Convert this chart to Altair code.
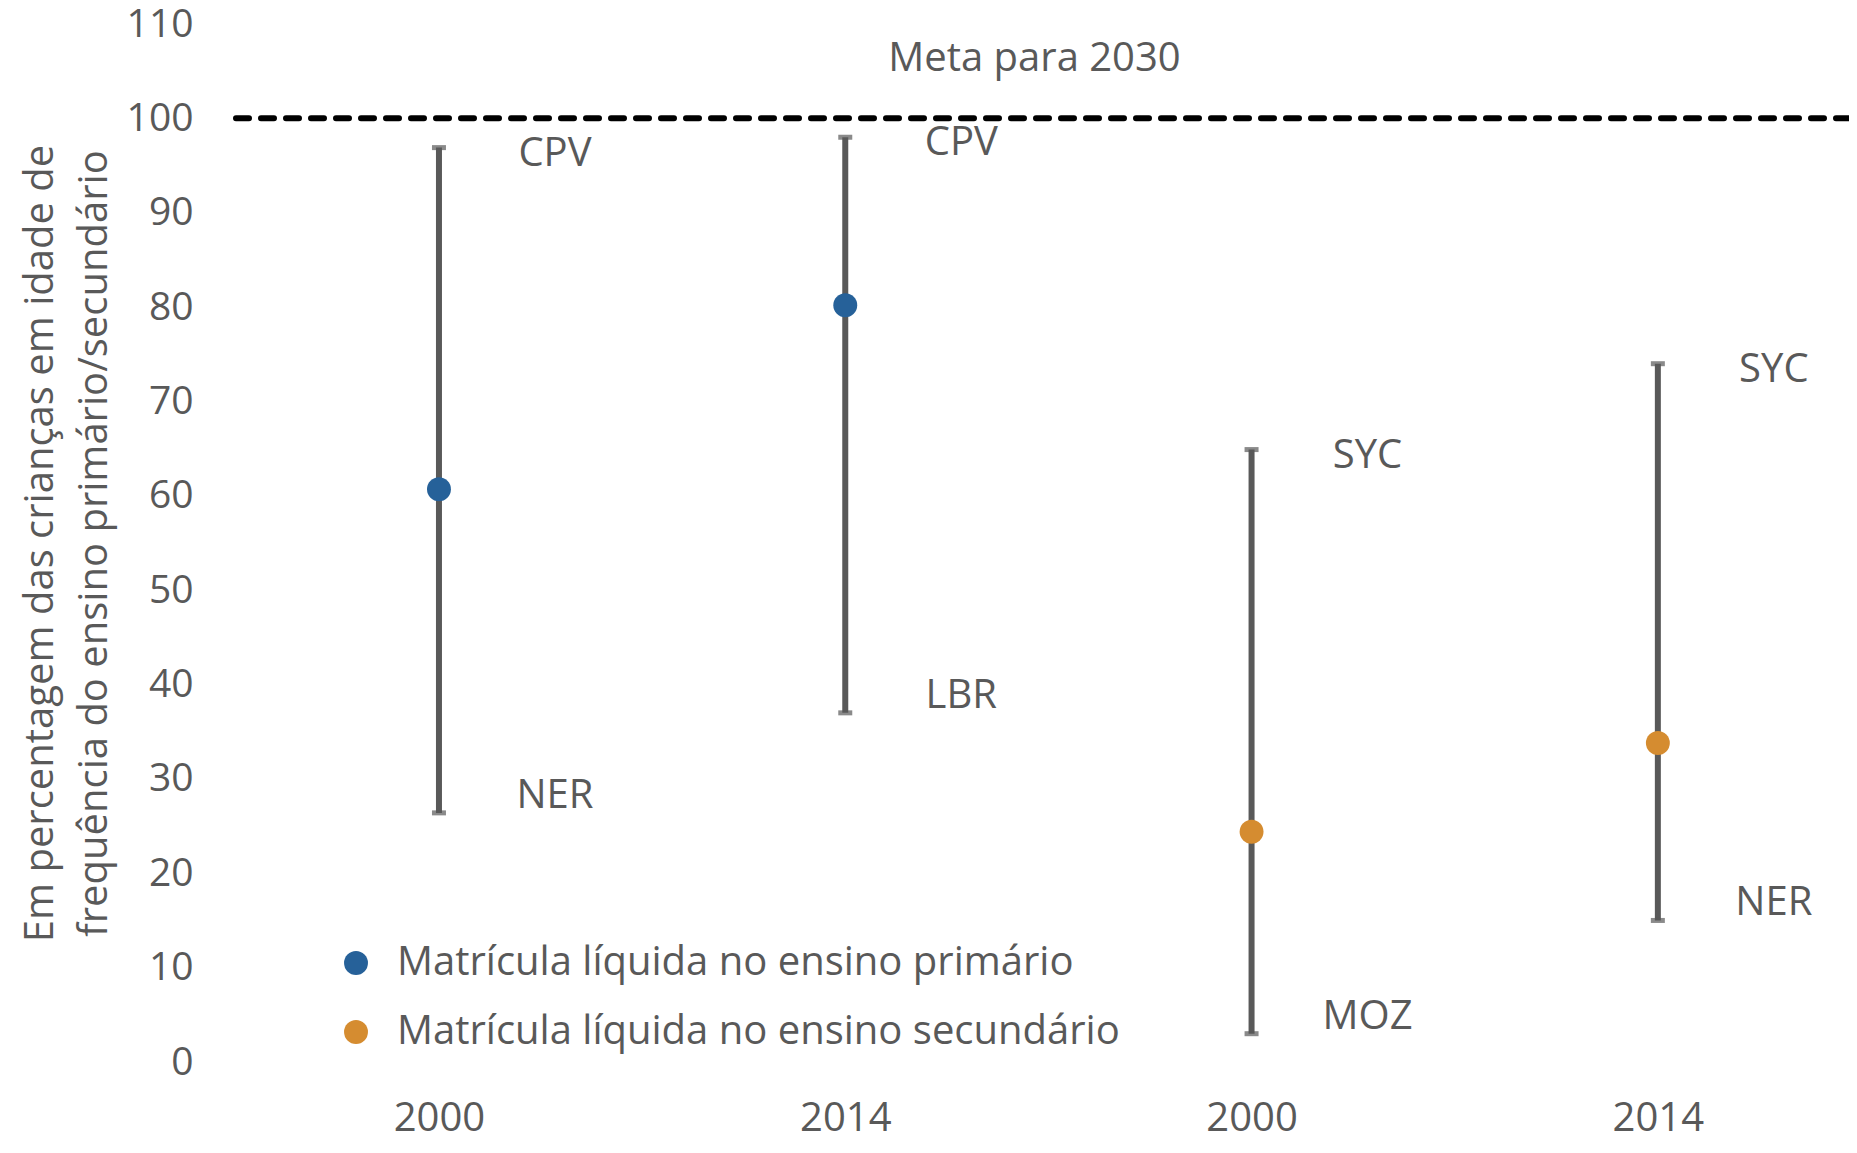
import altair as alt
import pandas as pd

# ---- data ----
tick_labels = ["2000", "2014", "2000", "2014"]
series = [
    "Matrícula líquida no ensino primário",
    "Matrícula líquida no ensino primário",
    "Matrícula líquida no ensino secundário",
    "Matrícula líquida no ensino secundário",
]
series_order = ["Matrícula líquida no ensino primário", "Matrícula líquida no ensino secundário"]
mean_vals = [60.7, 80.2, 24.4, 33.8]
low_vals = [26.4, 37.0, 3.0, 15.0]
high_vals = [96.9, 98.0, 64.9, 74.0]
low_country = ["NER", "LBR", "MOZ", "NER"]
high_country = ["CPV", "CPV", "SYC", "SYC"]
target_vals = [100]
target_label = ["Meta para 2030"]

df = pd.DataFrame({
    "pos": list(range(len(tick_labels))),
    "serie": series,
    "media": mean_vals,
    "min": low_vals,
    "max": high_vals,
    "pais_min": low_country,
    "pais_max": high_country,
})
df_target = pd.DataFrame({"meta": target_vals, "rotulo": target_label})

GRAY = "#595959"
BLUE = "#266199"
ORANGE = "#D58C30"
FONT = "Open Sans"
W, H = 1613, 1038

label_expr = "[" + ",".join("'%s'" % t for t in tick_labels) + "][datum.value]"

x_scale = alt.Scale(type="point", padding=0.485, align=0.515)
x_enc = alt.X(
    "pos:O",
    scale=x_scale,
    axis=alt.Axis(
        title=None, labelExpr=label_expr, labelAngle=0, ticks=False, domain=False,
        labelFontSize=40, labelColor=GRAY, labelPadding=36, labelFont=FONT,
    ),
)
y_scale = alt.Scale(domain=[0, 110], nice=False, zero=True)
y_axis = alt.Axis(
    values=list(range(0, 111, 10)), grid=False, ticks=False, domain=False,
    labelFontSize=39, labelColor=GRAY, labelPadding=43, labelFont=FONT,
    title=["Em percentagem das crianças em idade de", "frequência do ensino primário/secundário"],
    titleFontSize=40, titleColor=GRAY, titleFontWeight="normal", titleFont=FONT,
    titleX=-196, titleY=H / 2, titleBaseline="middle", titleLineHeight=54,
)

base = alt.Chart(df)

target_rule = alt.Chart(df_target).mark_rule(
    color="black", strokeWidth=6, strokeDash=[13, 12], strokeCap="round"
).encode(y=alt.Y("meta:Q", scale=y_scale, axis=y_axis))

target_text = alt.Chart(df_target).mark_text(
    fontSize=40, color=GRAY, font=FONT, dy=-59, baseline="middle", align="center"
).encode(x=alt.value(W / 2 - 8), y=alt.Y("meta:Q"), text="rotulo:N")

rules = base.mark_rule(color=GRAY, strokeWidth=6).encode(
    x=x_enc, y=alt.Y("min:Q", scale=y_scale, axis=y_axis), y2="max:Q"
)
cap_low = base.mark_tick(orient="horizontal", color=GRAY, size=14, thickness=5).encode(
    x=x_enc, y="min:Q"
)
cap_high = base.mark_tick(orient="horizontal", color=GRAY, size=14, thickness=5).encode(
    x=x_enc, y="max:Q"
)
points = base.mark_circle(size=572, opacity=1).encode(
    x=x_enc,
    y="media:Q",
    color=alt.Color(
        "serie:N",
        scale=alt.Scale(domain=series_order, range=[BLUE, ORANGE]),
        legend=alt.Legend(
            title=None, orient="none", legendX=100, legendY=919, padding=0,
            symbolType="circle", symbolSize=572, symbolStrokeWidth=0,
            labelFontSize=40, labelColor=GRAY, labelFont=FONT, labelOffset=21,
            rowPadding=29, labelLimit=1000,
        ),
    ),
)
text_high = base.mark_text(
    fontSize=40, color=GRAY, font=FONT, dx=116, dy=6, align="center", baseline="middle"
).encode(x=x_enc, y="max:Q", text="pais_max:N")
text_low = base.mark_text(
    fontSize=40, color=GRAY, font=FONT, dx=116, dy=-17, align="center", baseline="middle"
).encode(x=x_enc, y="min:Q", text="pais_min:N")

chart = alt.layer(
    target_rule, target_text, rules, cap_low, cap_high, points, text_high, text_low
).properties(
    width=W, height=H,
    autosize=alt.AutoSizeParams(type="none"),
    padding={"left": 228, "top": 16, "right": 0, "bottom": 83},
).configure(font=FONT).configure_view(stroke=None)

chart.save("out.html", embed_options={"renderer": "svg", "actions": False})
